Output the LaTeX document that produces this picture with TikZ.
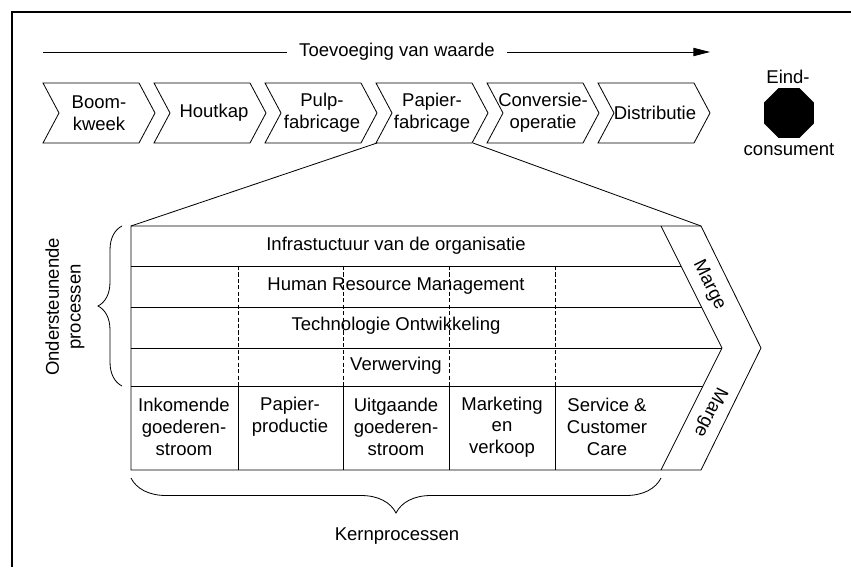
\documentclass[tikz,border=0pt]{standalone}
\usepackage{fontspec}
\setmainfont{Liberation Sans}
\usetikzlibrary{arrows.meta,decorations.pathreplacing,positioning,shapes.geometric}

\begin{document}
\begin{tikzpicture}
    [
      x=0.03cm, y=-0.03cm,
      every node/.style={font=\fontsize{15.8}{18.5}\selectfont},
      stap/.style={align=center, inner sep=0pt},
      lijn/.style={line width=0.7pt},
      pijl/.style={-{Triangle[length=0.5cm,width=0.25cm]}, line width=0.7pt},
      scheiding/.style={line width=0.7pt, dash pattern=on 3.5pt off 2pt},
      accolade/.style={decorate, decoration={brace, amplitude=#1}, line width=0.7pt},
      stopbord/.style={regular polygon, regular polygon sides=8, minimum size=1.62cm, fill=black, inner sep=0pt}
    ]

    \useasboundingbox (0, 0) rectangle (851, 567);
    \draw [line width=1pt] (12, 567) -- (12, 12) -- (851, 12);

    % waardeketen
    \coordinate (start) at (43, 52);
    \coordinate (eind) at (710, 52);
    \node (waarde) [inner xsep=0.36cm, inner ysep=0pt] at (397, 52) {Toevoeging van waarde};

    \foreach \x in {43, 154, 265, 376, 487, 598}
      \draw [lijn] (\x, 83) -- ++(96, 0) -- ++(16, 30) -- ++(-16, 30) -- ++(-96, 0) -- ++(16, -30) -- cycle;

    \node (boom) [stap] at (99, 113) {Boom-\\kweek};
    \node (houtkap) [stap] at (214, 113) {Houtkap};
    \node (pulp) [stap] at (322, 113) {Pulp-\\fabricage};
    \node (papier) [stap] at (432, 113) {Papier-\\fabricage};
    \node (conversie) [stap] at (543, 113) {Conversie-\\operatie};
    \node (distributie) [stap] at (655, 113) {Distributie};

    \node (stop) [stopbord] at (789, 113) {};
    \node (eindlabel) at (788, 77) {Eind-};
    \node (consument) at (789, 150) {consument};

    % uitvergroting papierfabricage
    \coordinate (pf-zw) at (377, 143);
    \coordinate (pf-zo) at (473, 143);
    \coordinate (keten-nw) at (131, 226);
    \coordinate (keten-no) at (701, 226);

    \draw [lijn] (131, 226) -- (701, 226) -- (761, 348) -- (701, 470) -- (131, 470) -- cycle;
    \draw [lijn] (661, 226) -- (722, 348) -- (661, 470);
    \draw [lijn] (131, 266) -- (681, 266)
                 (131, 307) -- (701.5, 307)
                 (131, 348) -- (722, 348)
                 (131, 386) -- (703, 386);
    \foreach \x in {238, 343, 449, 555} {
      \draw [scheiding] (\x, 266) -- (\x, 386);
      \draw [lijn] (\x, 386) -- (\x, 470);
    }

    \node (infra) at (396, 246) {Infrastuctuur van de organisatie};
    \node (hrm) at (396, 286) {Human Resource Management};
    \node (tech) at (396, 326) {Technologie Ontwikkeling};
    \node (verw) at (396, 366) {Verwerving};

    \node (inkomend) [stap] at (184, 427) {Inkomende\\goederen-\\stroom};
    \node (productie) [stap] at (290, 417) {Papier-\\productie};
    \node (uitgaand) [stap] at (396, 427) {Uitgaande\\goederen-\\stroom};
    \node (marketing) [stap] at (502, 427) {Marketing\\en\\verkoop};
    \node (service) [stap] at (607, 427) {Service \&\\Customer\\Care};

    \node (marge-boven) [rotate=-63.4] at (709, 285) {Marge};
    \node (marge-onder) [rotate=-116.6] at (710, 412) {Marge};

    \draw [accolade=0.72cm] (122, 386) -- (122, 226);
    \draw [accolade=1.05cm] (661, 478) -- (131, 478);
    \node (ondersteunend) [stap, rotate=90] at (65, 307) {Ondersteunende\\processen};
    \node (kern) at (397, 536) {Kernprocessen};

    \path
    (start) edge [lijn] (waarde)
    (waarde) edge [pijl] (eind)
    (pf-zw) edge [lijn] (keten-nw)
    (pf-zo) edge [lijn] (keten-no)
    ;

  \end{tikzpicture}
\end{document}
